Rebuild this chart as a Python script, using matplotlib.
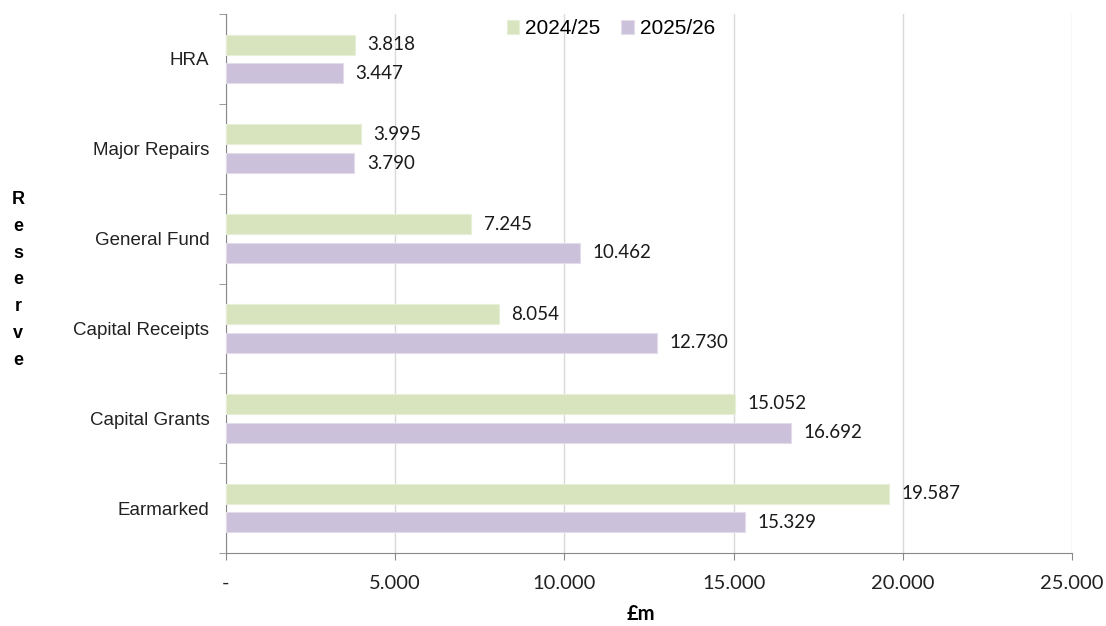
import matplotlib.pyplot as plt
import numpy as np

# reserves, top to bottom as shown
reserves = ['HRA', 'Major Repairs', 'General Fund', 'Capital Receipts', 'Capital Grants', 'Earmarked']
vals_2425 = [3818, 3995, 7245, 8054, 15052, 19587]
vals_2526 = [3447, 3790, 10462, 12730, 16692, 15329]
years = ['2024/25', '2025/26']
x_ticks = [0, 5000, 10000, 15000, 20000, 25000]
x_ticklabels = ['-', '5.000', '10.000', '15.000', '20.000', '25.000']

green = '#D7E4BD'
purple = '#CCC1DA'

fig = plt.figure(figsize=(11.06, 6.26), dpi=100)
ax = fig.add_axes([0.2043, 0.1166, 0.765, 0.9776 - 0.1166])

y = np.arange(len(reserves))
h = 0.222
ax.barh(y - 0.16, vals_2425, height=h, color=green, edgecolor='#E8EFD9', linewidth=0.8, label=years[0], zorder=3)
ax.barh(y + 0.16, vals_2526, height=h, color=purple, edgecolor='#E3DDEB', linewidth=0.8, label=years[1], zorder=3)

def fmt(v):
    return f'{v / 1000:.3f}'

for yi, v in zip(y, vals_2425):
    ax.annotate(fmt(v), (v, yi - 0.16), xytext=(9, 0), textcoords='offset points',
                va='center', ha='left', fontsize=13.5, family='Lato', color='#1a1a1a')
for yi, v in zip(y, vals_2526):
    ax.annotate(fmt(v), (v, yi + 0.16), xytext=(9, 0), textcoords='offset points',
                va='center', ha='left', fontsize=13.5, family='Lato', color='#1a1a1a')

ax.set_xlim(0, 25000)
ax.set_ylim(5.5, -0.5)
ax.set_xticks(x_ticks)
ax.set_xticklabels(x_ticklabels, family='Lato', fontsize=14.5, color='#222222')
ax.set_yticks(y)
ax.set_yticklabels(reserves, family='Liberation Sans', fontsize=13.5, color='#222222')
ax.set_yticks(np.arange(-0.5, 6, 1), minor=True)
ax.tick_params(axis='y', which='major', length=0, pad=12)
ax.tick_params(axis='y', which='minor', length=5, color='#888888', direction='out')
ax.tick_params(axis='x', length=5, color='#888888', direction='out', pad=11)

ax.grid(axis='x', color='#D9D9D9', linewidth=1, zorder=0)
for s in ['top', 'right']:
    ax.spines[s].set_visible(False)
ax.spines['left'].set_color('#888888')
ax.spines['bottom'].set_color('#888888')

ax.legend(loc='upper center', bbox_to_anchor=(0.455, 1.025), ncol=2, frameon=False,
          prop={'family': 'Liberation Sans', 'size': 15}, handlelength=0.6, handleheight=0.6,
          columnspacing=1.0, handletextpad=0.3)

fig.text(641 / 1106, 1 - 614 / 626, '£m', ha='center', va='center', fontsize=14.5,
         fontweight='bold', family='Lato')
fig.text(18 / 1106, 1 - 280 / 626, '\n'.join('Reserve'), ha='center', va='center',
         fontsize=13, fontweight='bold', family='Liberation Sans', linespacing=1.75)

fig.savefig('out.png', dpi=100)
